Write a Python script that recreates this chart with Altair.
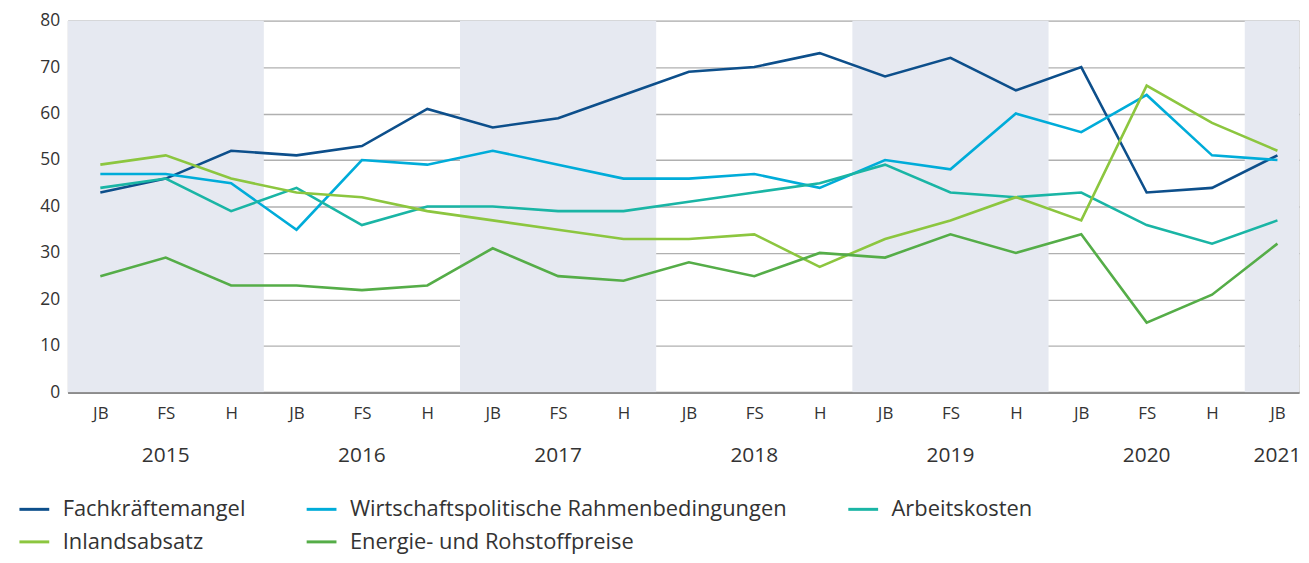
import altair as alt
import pandas as pd

# ---- data ----
periods = ["JB", "FS", "H"] * 6 + ["JB"]
years = [2015] * 3 + [2016] * 3 + [2017] * 3 + [2018] * 3 + [2019] * 3 + [2020] * 3 + [2021]

series_names = [
    "Fachkräftemangel",
    "Wirtschaftspolitische Rahmenbedingungen",
    "Arbeitskosten",
    "Inlandsabsatz",
    "Energie- und Rohstoffpreise",
]
fachkraefte = [43, 46, 52, 51, 53, 61, 57, 59, 64, 69, 70, 73, 68, 72, 65, 70, 43, 44, 51]
wirtschaftspolitik = [47, 47, 45, 35, 50, 49, 52, 49, 46, 46, 47, 44, 50, 48, 60, 56, 64, 51, 50]
arbeitskosten = [44, 46, 39, 44, 36, 40, 40, 39, 39, 41, 43, 45, 49, 43, 42, 43, 36, 32, 37]
inlandsabsatz = [49, 51, 46, 43, 42, 39, 37, 35, 33, 33, 34, 27, 33, 37, 42, 37, 66, 58, 52]
energie = [25, 29, 23, 23, 22, 23, 31, 25, 24, 28, 25, 30, 29, 34, 30, 34, 15, 21, 32]
series_values = [fachkraefte, wirtschaftspolitik, arbeitskosten, inlandsabsatz, energie]
colors = ["#0d4f8b", "#00acd9", "#1ab5a5", "#8cc63f", "#55ad48"]

shaded_years = [2015, 2017, 2019, 2021]

# ---- tables ----
rows = []
for name, vals in zip(series_names, series_values):
    for i, v in enumerate(vals):
        rows.append({"idx": i, "period": periods[i], "year": str(years[i]), "series": name, "value": v})
df = pd.DataFrame(rows)

ydf = pd.DataFrame({"idx": list(range(len(years))), "year": [str(y) for y in years]})

band_rows = []
for y in shaded_years:
    ids = [i for i, yy in enumerate(years) if yy == y]
    band_rows.append({"year": str(y), "start": min(ids) - 0.5, "end": min(ids) + 2.5})
bands = pd.DataFrame(band_rows)

W, H = 1239, 374
XMAX = -0.5 + W / 65.8

label_expr = "[" + ",".join("'%s'" % p for p in periods) + "][datum.value]"
xscale = alt.Scale(domain=[-0.5, XMAX], nice=False, zero=False)
xaxis = alt.Axis(
    values=list(range(len(periods))), labelExpr=label_expr, title=None, grid=False,
    ticks=False, domain=True, domainColor="#8c8c8c", domainWidth=2.2,
    labelFontSize=17, labelColor="#333333", labelPadding=13, labelFont="Open Sans",
)
yscale = alt.Scale(domain=[0, 80], nice=False)
yaxis = alt.Axis(
    values=list(range(0, 81, 10)), title=None, grid=True, gridColor="#b0b0b0",
    gridWidth=1.4, ticks=False, domain=False, labelFontSize=17.5, labelColor="#333333",
    labelPadding=8, labelFont="Open Sans",
)

band_layer = alt.Chart(bands).mark_rect(color="#e6e9f1", clip=True).encode(
    x=alt.X("start:Q", scale=xscale, axis=xaxis),
    x2="end:Q",
    y=alt.datum(0, scale=yscale, axis=yaxis),
    y2=alt.datum(80),
)

line_layer = alt.Chart(df).mark_line(strokeWidth=2.6, clip=True).encode(
    x=alt.X("idx:Q", scale=xscale, axis=xaxis),
    y=alt.Y("value:Q", scale=yscale, axis=yaxis),
    color=alt.Color(
        "series:N",
        scale=alt.Scale(domain=series_names, range=colors),
        sort=series_names,
        legend=alt.Legend(
            orient="none", legendX=-50, legendY=475, direction="horizontal", columns=3,
            title=None, symbolType="stroke", symbolSize=900, symbolStrokeWidth=3,
            labelFontSize=22, labelColor="#333333", labelFont="Open Sans",
            columnPadding=55, rowPadding=5, labelOffset=12, labelLimit=0,
        ),
    ),
)

year_layer = alt.Chart(ydf).mark_text(
    baseline="middle", fontSize=21, color="#333333", font="Open Sans"
).encode(
    x=alt.X("mean(idx):Q", scale=xscale, axis=xaxis),
    y=alt.value(H + 64),
    text="year:N",
)

chart = alt.layer(band_layer, line_layer, year_layer).properties(
    width=W, height=H,
    autosize=alt.AutoSizeParams(type="none"),
    padding={"left": 60, "top": 11, "right": 2, "bottom": 162},
).configure_view(stroke=None).configure(font="Open Sans")

chart.save("out.html", embed_options={"renderer": "svg", "actions": False})
